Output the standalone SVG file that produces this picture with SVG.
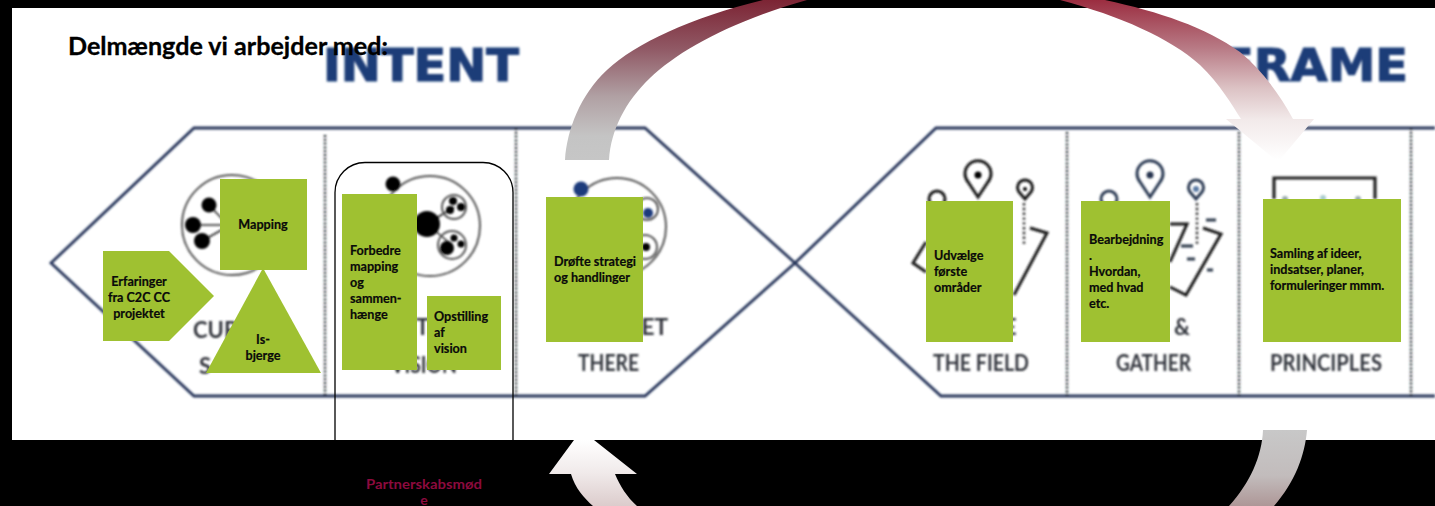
<svg xmlns="http://www.w3.org/2000/svg" width="1435" height="506" viewBox="0 0 1435 506">
<style>
.lbl{font-family:"Lato","Liberation Sans",sans-serif;font-weight:700;font-size:12.6px;fill:#0a0a0a;stroke:#0a0a0a;stroke-width:0.2}
.mid{text-anchor:middle}
.box{fill:#9fc131}
.cap{font-family:"Lato","Liberation Sans",sans-serif;font-weight:700;font-size:22px;fill:#33363c}
.head{font-family:"DejaVu Sans",sans-serif;font-weight:700;font-size:45px;fill:#1c3c78;stroke:#1c3c78;stroke-width:1.2}
.hex{fill:none;stroke:#26345a;stroke-width:2.8;stroke-linejoin:miter}
.div{fill:none;stroke:#2c3038;stroke-width:2.6;stroke-dasharray:2 1.8}
.ring{fill:none;stroke:#555;stroke-width:2}
.ink{fill:none;stroke:#1a1a1a;stroke-width:3}
.ink2{fill:none;stroke:#2e3d56;stroke-width:3}
.dot{fill:#000}
.blu{fill:#1a3a7c}
.spoke{stroke:#222;stroke-width:1.5}
.pd{stroke:#333;stroke-width:2.6;stroke-dasharray:2.4 2.4;fill:none}
.part{font-family:"Lato","Liberation Sans",sans-serif;font-weight:700;font-size:14px;fill:#8c0a3e}
</style>
<defs>
<filter id="soft" filterUnits="userSpaceOnUse" x="0" y="0" width="1435" height="506"><feGaussianBlur stdDeviation="1"/></filter>
<linearGradient id="gLeft" gradientUnits="userSpaceOnUse" x1="0" y1="0" x2="0" y2="160">
<stop offset="0" stop-color="#7c2434"/><stop offset="0.3" stop-color="#905864"/><stop offset="0.6" stop-color="#b0a0a3"/><stop offset="0.85" stop-color="#c4c4c4"/><stop offset="1" stop-color="#c6c6c6"/>
</linearGradient>
<linearGradient id="gRight" gradientUnits="userSpaceOnUse" x1="0" y1="0" x2="0" y2="160">
<stop offset="0" stop-color="#9b2d40"/><stop offset="0.3" stop-color="#b87a85"/><stop offset="0.55" stop-color="#dcc2c4"/><stop offset="0.75" stop-color="#f2eaea"/><stop offset="1" stop-color="#ffffff"/>
</linearGradient>
<linearGradient id="gBotR" gradientUnits="userSpaceOnUse" x1="0" y1="430" x2="0" y2="506">
<stop offset="0" stop-color="#c8c8c8"/><stop offset="0.6" stop-color="#c2bcbc"/><stop offset="1" stop-color="#ae9797"/>
</linearGradient>
<linearGradient id="gBotL" gradientUnits="userSpaceOnUse" x1="0" y1="440" x2="0" y2="506">
<stop offset="0" stop-color="#ffffff"/><stop offset="0.5" stop-color="#f0eaea"/><stop offset="1" stop-color="#dccccc"/>
</linearGradient>
</defs>

<rect width="1435" height="506" fill="#000"/>
<rect x="12" y="8" width="1423" height="432" fill="#fff"/>

<g id="backdrop" filter="url(#soft)">
<text class="head" x="323" y="81" textLength="196" lengthAdjust="spacingAndGlyphs">INTENT</text>
<text class="head" x="1221" y="81" textLength="187" lengthAdjust="spacingAndGlyphs">FRAME</text>
<path class="hex" d="M1435 128H936L795 263 645 396H194L51 263 194 128H645L795 263 941 396H1435"/>
<path class="div" d="M325 135V396M516 128V396M1067 132V396M1239 132V396M1411 128V396"/>

<circle class="ring" cx="232" cy="225" r="50"/>
<path class="spoke" d="M209 205L225 222M193 225H225M202 241L225 228"/>
<circle class="dot" cx="209" cy="205" r="7.500"/><circle class="dot" cx="193" cy="225" r="8"/><circle class="dot" cx="202" cy="241" r="8"/>

<circle class="ring" cx="430" cy="226" r="50"/>
<path class="spoke" d="M427 224L454 207M427 224L452 245"/>
<circle class="dot" cx="393" cy="184" r="7.500"/><circle class="dot" cx="427" cy="224" r="13"/>
<circle class="ring" cx="454" cy="207" r="12"/><circle class="dot" cx="453" cy="201" r="4"/><circle class="dot" cx="450" cy="210" r="4"/><circle class="dot" cx="461" cy="207" r="4"/>
<circle class="ring" cx="452" cy="245" r="14"/><circle class="dot" cx="447" cy="248" r="7"/><circle class="dot" cx="454" cy="238" r="3.500"/><circle class="dot" cx="461" cy="244" r="3.500"/>

<circle class="ring" cx="617" cy="227" r="49"/>
<circle class="blu" cx="581" cy="189" r="7.500"/><circle class="ring" cx="647" cy="209" r="11"/><circle class="blu" cx="648" cy="213" r="5"/>
<circle class="ring" cx="645" cy="247" r="12"/><circle class="dot" cx="646" cy="247" r="4"/>

<path class="ink" d="M978 197L968 182A13 13 0 1 1 988 182Z"/><circle class="dot" cx="978" cy="175" r="3.500"/>
<path class="ink" d="M1025 199L1019 192A7.500 7.500 0 1 1 1031 192Z"/><circle class="dot" cx="1025" cy="189" r="2"/>
<circle class="ink" cx="937" cy="199" r="8"/>
<path class="pd" d="M1024 203V246"/>
<path class="ink" d="M1030 228L1047 233 1014 295M926 242L913 263 926 272"/>

<path class="ink2" d="M1150 197L1140 182A13 13 0 1 1 1160 182Z"/><circle cx="1150" cy="175" r="3.500" fill="#26364f"/>
<path class="ink2" d="M1196 199L1190 192A7.500 7.500 0 1 1 1202 192Z"/><circle cx="1196" cy="189" r="3" fill="#5a7aa5"/>
<circle class="ink2" cx="1109" cy="199" r="8"/>
<path class="pd" d="M1197 203V246"/>
<path class="ink" d="M1170 224H1187L1170 262M1203 228L1221 234 1186 295 1170 287"/>
<path d="M1181 246H1193M1187 259H1195M1206 220H1216M1207 270H1213" stroke="#2d3a4c" stroke-width="2.800"/>

<path d="M1274 199V178H1375V199" fill="none" stroke="#222" stroke-width="3.200"/>
<circle cx="1285" cy="199" r="3" fill="#9aa"/><circle cx="1323" cy="198" r="3" fill="#acc"/><circle cx="1358" cy="199" r="3" fill="#9aa"/>

<text class="cap" x="193" y="338">CUR</text>
<text class="cap" x="199" y="374">S</text>
<text class="cap" x="416" y="335">T</text>
<text class="cap mid" x="424" y="373" textLength="66" lengthAdjust="spacingAndGlyphs">VISION</text>
<text class="cap" x="625" y="335" textLength="43" lengthAdjust="spacingAndGlyphs">GET</text>
<text class="cap" x="578" y="371" textLength="61" lengthAdjust="spacingAndGlyphs">THERE</text>
<text class="cap" x="1004" y="335">E</text>
<text class="cap" x="933" y="371" textLength="96" lengthAdjust="spacingAndGlyphs">THE FIELD</text>
<text class="cap" x="1174" y="335">&amp;</text>
<text class="cap" x="1116" y="371" textLength="75" lengthAdjust="spacingAndGlyphs">GATHER</text>
<text class="cap" x="1270" y="371" textLength="112" lengthAdjust="spacingAndGlyphs">PRINCIPLES</text>
</g>

<g id="connectors">
<path fill="url(#gLeft)" d="M565 160C567 130 580 95 607 70 636 43 690 18 763 0H807C730 22 680 50 650 78 625 102 611 130 609 160Z"/>
<path fill="url(#gRight)" d="M1060 0C1120 16 1170 38 1200 65 1220 84 1232 105 1241 119H1226L1278 162 1314 119H1293C1280 95 1262 70 1240 52 1205 27 1160 12 1105 0Z"/>
<path fill="url(#gBotR)" d="M1263 430H1307C1305 455 1295 482 1274 506H1229C1250 483 1262 456 1263 430Z"/>
<path fill="url(#gBotL)" d="M574 440L549 474H571C575 488 584 498 593 506H637C627 497 620 486 615 474H637L594 440Z"/>
</g>

<g id="partner">
<rect x="335" y="162.500" width="178" height="360" rx="30" fill="none" stroke="#000" stroke-width="1.300"/>
<text class="part mid" x="424" y="489" textLength="116" lengthAdjust="spacingAndGlyphs">Partnerskabsmød</text>
<text class="part mid" x="424" y="505">e</text>
</g>

<g id="title"><text x="68" y="55" style="font-family:Lato,'Liberation Sans',sans-serif;font-weight:700;font-size:24px;fill:#000;stroke:#000;stroke-width:0.3" textLength="320" lengthAdjust="spacingAndGlyphs">Delmængde vi arbejder med:</text></g>

<g id="node-mapping"><rect class="box" x="220" y="179" width="87" height="91"/><text class="lbl mid" x="263" y="229">Mapping</text></g>
<g id="node-isbjerge"><polygon class="box" points="263,268 321,373 206,373"/><text class="lbl mid" x="263" y="344">Is-</text><text class="lbl mid" x="263" y="360">bjerge</text></g>
<g id="node-erfaringer"><polygon class="box" points="103,251 169,251 214,296 169,341 103,341"/><text class="lbl mid" x="139" y="286">Erfaringer</text><text class="lbl mid" x="139" y="302">fra C2C CC</text><text class="lbl mid" x="139" y="318">projektet</text></g>
<g id="node-forbedre"><rect class="box" x="342" y="194" width="75" height="176"/><text class="lbl" x="350" y="255">Forbedre</text><text class="lbl" x="350" y="271">mapping</text><text class="lbl" x="350" y="287">og</text><text class="lbl" x="350" y="303">sammen-</text><text class="lbl" x="350" y="319">hænge</text></g>
<g id="node-opstilling"><rect class="box" x="427" y="296" width="74" height="74"/><text class="lbl" x="434" y="321">Opstilling</text><text class="lbl" x="434" y="337">af</text><text class="lbl" x="434" y="353">vision</text></g>
<g id="node-drofte"><rect class="box" x="546" y="197" width="97" height="145"/><text class="lbl" x="554" y="266">Drøfte strategi</text><text class="lbl" x="554" y="282">og handlinger</text></g>
<g id="node-udvaelge"><rect class="box" x="926" y="201" width="87" height="141"/><text class="lbl" x="934" y="260">Udvælge</text><text class="lbl" x="934" y="276">første</text><text class="lbl" x="934" y="292">områder</text></g>
<g id="node-bearbejdning"><rect class="box" x="1081" y="201" width="89" height="141"/><text class="lbl" x="1089" y="244">Bearbejdning</text><text class="lbl" x="1089" y="260">.</text><text class="lbl" x="1089" y="276">Hvordan,</text><text class="lbl" x="1089" y="292">med hvad</text><text class="lbl" x="1089" y="308">etc.</text></g>
<g id="node-samling"><rect class="box" x="1263" y="199" width="138" height="143"/><text class="lbl" x="1270" y="258">Samling af ideer,</text><text class="lbl" x="1270" y="274">indsatser, planer,</text><text class="lbl" x="1270" y="290">formuleringer mmm.</text></g>
</svg>
